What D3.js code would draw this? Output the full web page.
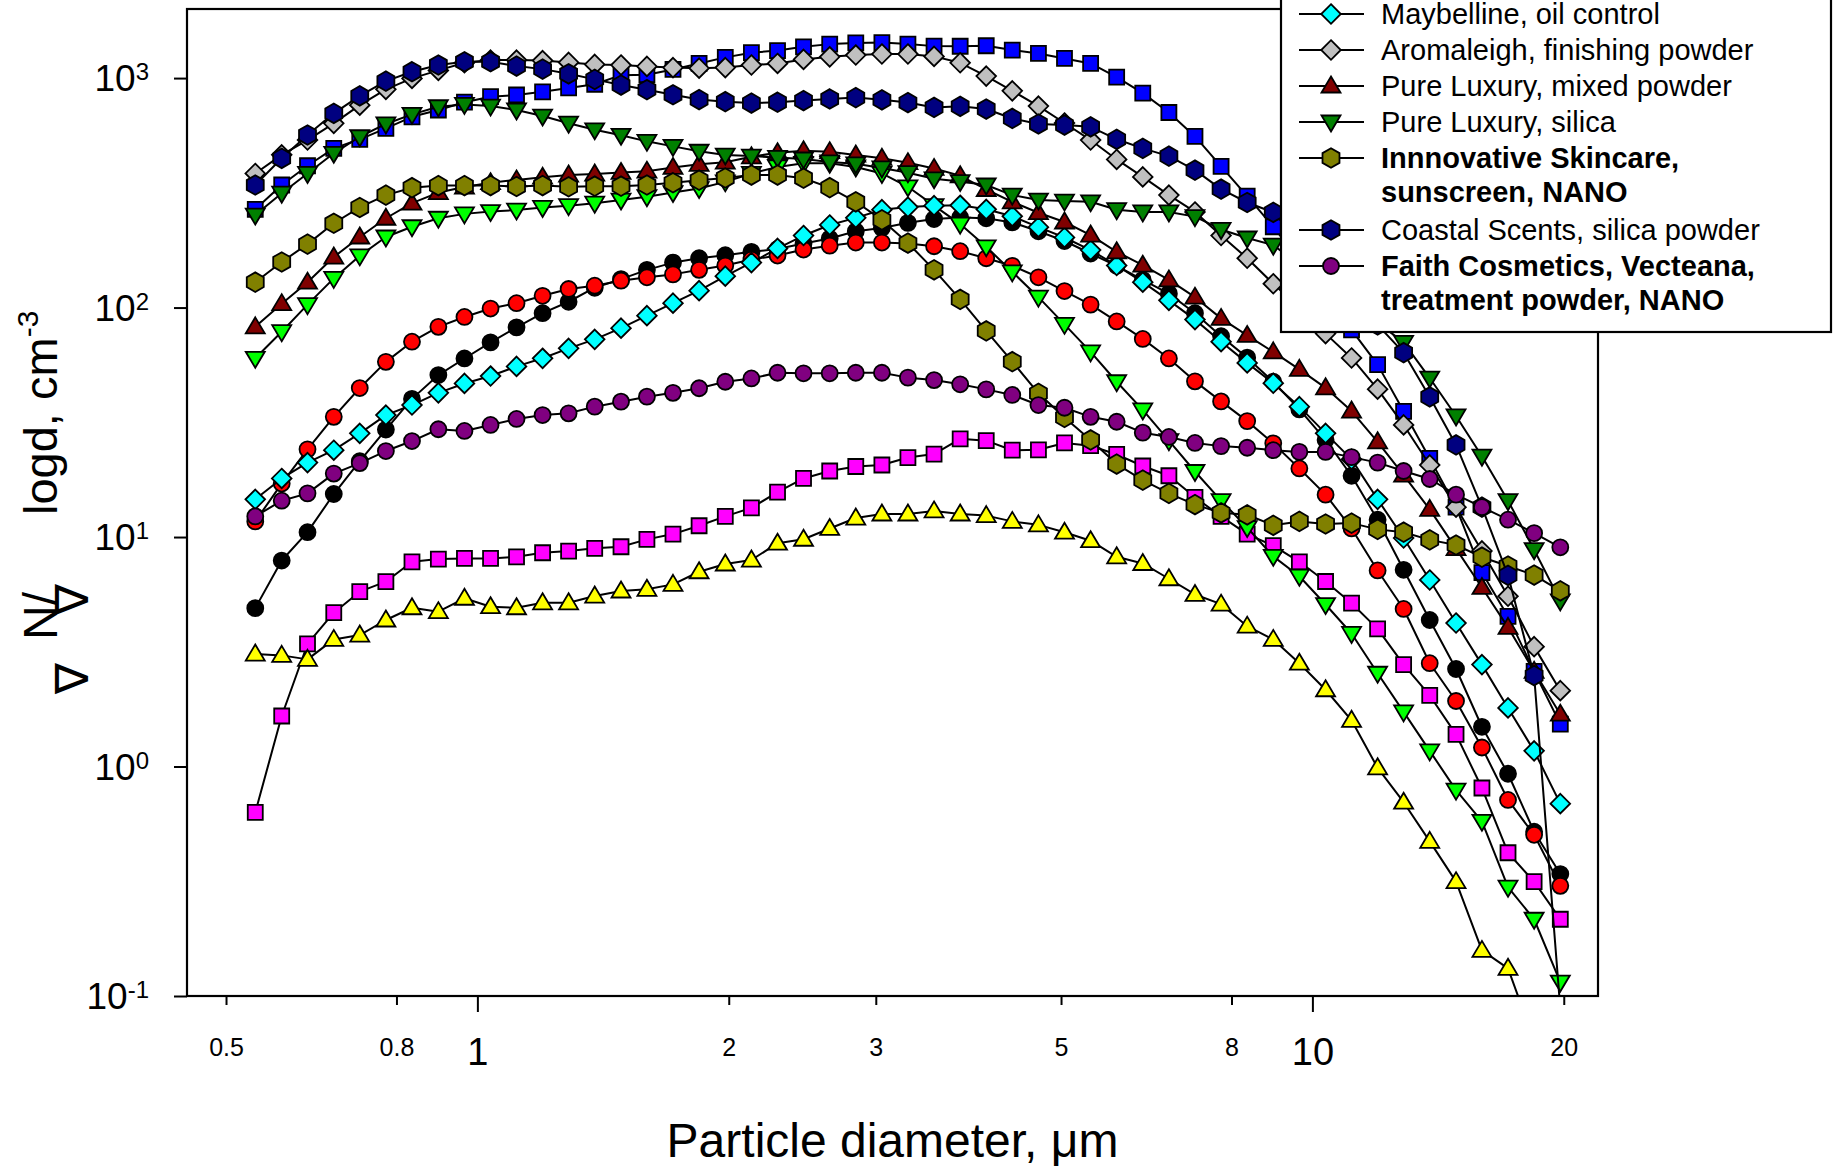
<!DOCTYPE html>
<html>
<head>
<meta charset="utf-8">
<script src="https://cdn.jsdelivr.net/npm/d3@7"></script>
<style>
  body { margin: 0; background: #ffffff; }
  svg { display: block; }
  text { font-family: "Liberation Sans", Arial, Helvetica, sans-serif; fill: #000; }
</style>
</head>
<body>
<svg id="chart" width="1833" height="1166"></svg>
<script>
// ---------------- DATA ----------------
const diameters = [0.542, 0.583, 0.626, 0.673, 0.723, 0.777, 0.835, 0.898, 0.965, 1.037, 1.114, 1.197, 1.286, 1.382, 1.486, 1.596, 1.715, 1.843, 1.981, 2.129, 2.288, 2.458, 2.642, 2.839, 3.051, 3.278, 3.523, 3.786, 4.068, 4.371, 4.698, 5.048, 5.425, 5.829, 6.264, 6.732, 7.234, 7.774, 8.354, 8.977, 9.647, 10.37, 11.14, 11.97, 12.86, 13.82, 14.86, 15.96, 17.15, 18.43, 19.81];

const blackCircles = [4.9,7.9,10.5,15.4,21.4,29.4,40,50.8,60,70.5,82,94.5,106,122,133,146,157,164,169,175,180,190,200,215,222,234,243,247,245,235,215,195,172,152,132,115,94.5,75,60.5,47.5,36,26.5,18.5,11.9,7.2,4.35,2.66,1.49,0.93,0.52,0.34];
const redCircles = [11.7,17.1,24.1,33.4,44.6,58,71,82.4,91,99,104.5,112.5,120.5,124.5,131,135.5,139.5,146,152.5,162,168.5,179,186,192,192,190,185,176,164,152,135.5,118,103,87,73,60,47.7,39,32,25.6,19.9,15.3,10.9,7.15,4.86,2.82,1.93,1.21,0.715,0.504,0.302];
const magentaSquares = [0.631,1.66,3.42,4.68,5.78,6.39,7.8,8.02,8.07,8.07,8.2,8.54,8.69,8.93,9.07,9.77,10.3,11.2,12.3,13.4,15.7,18.0,19.4,20.3,20.6,22.2,23.0,26.8,26.3,23.9,24.0,25.7,25.0,22.9,20.4,18.5,14.9,12.3,10.3,9.17,7.8,6.4,5.15,3.98,2.78,2.04,1.38,0.806,0.421,0.315,0.216];
const yellowTriangles = [3.09,3.05,2.93,3.58,3.74,4.35,4.92,4.73,5.41,4.97,4.92,5.17,5.17,5.53,5.82,5.92,6.22,7.06,7.63,7.94,9.4,9.78,10.9,12.1,12.6,12.6,13.0,12.6,12.4,11.7,11.3,10.5,9.64,8.2,7.67,6.58,5.62,5.1,4.09,3.58,2.82,2.16,1.59,0.987,0.699,0.472,0.315,0.158,0.132,0.064,null];
const blueSquares = [268,342,415,494,541,604,678,726,785,830,844,871,906,940,1030,1035,1091,1158,1231,1290,1318,1369,1406,1423,1428,1406,1378,1376,1383,1324,1281,1218,1158,1010,860,708,557,412,306,225,160,115,80,56.4,35.3,22.0,13.5,7.0,4.51,2.6,1.53];
const greenTriangles = [60.1,78.5,103,134,168,203,225,245,256,262,266,273,278,285,294,304,317,330,353,384,410,425,425,410,384,336,278,231,184,143,111,84.5,64.1,47.5,35.8,26.3,19.3,14.4,11,8.24,6.75,5.08,3.8,2.55,1.73,1.17,0.789,0.577,0.298,0.216,0.115];
const maybelline = [14.6,18.0,21.1,23.9,28.3,34.0,37.6,42.5,46.7,50.3,55.4,60.1,66.4,72.7,81.3,92.2,104.5,118.5,137,157,181,206,229,246,267,274,278,279,268,250,224,202,178,152.5,129,107.5,88.6,71,57.4,46.8,37,28.3,21.8,14.6,9.9,6.5,4.22,2.78,1.8,1.17,0.689];
const aromaleigh = [384,463,537,635,762,893,997,1080,1166,1198,1198,1192,1170,1147,1140,1124,1111,1105,1111,1140,1158,1206,1238,1260,1273,1273,1243,1166,1020,880,755,637,537,442,371,309,261,206,164,127,100,77,60.3,44.1,30.8,20.6,13.5,8.7,5.52,3.33,2.14];
const pureLuxuryMixed = [82.4,104,129,166,203,245,285,317,335,350,360,370,378,382,388,393,408,421,430,454,473,482,478,462,447,428,404,375,327,289,259,236,207,175,153,132,111,89.7,75.6,64.1,53.8,44.7,35.4,26.0,18.6,13.2,8.9,6.03,4.04,2.6,1.69];
const pureLuxurySilica = [253,315,384,470,555,631,695,750,768,755,726,683,636,595,563,530,504,480,462,457,451,444,431,423,406,387,364,354,342,309,294,291,289,267,261,261,249,219,201,187,154,126,104,86,70.5,49.3,33.7,22.5,14.4,8.81,5.27];
const innovativeSkincare = [129,158,189,233,273,309,333,340,340,340,337,340,336,338,338,342,350,359,367,378,378,366,333,289,241,191,146,108.5,79.1,58.1,42.3,33.2,26.5,20.8,17.7,15.5,13.85,12.75,12.5,11.25,11.7,11.4,11.5,10.8,10.5,9.72,9.23,8.17,7.48,6.83,5.83];
const coastalScents = [342,447,565,702,837,970,1066,1140,1178,1178,1128,1094,1044,987,932,890,846,806,789,778,785,798,811,822,804,782,745,753,733,667,631,624,613,541,494,457,397,328,287,260,196,148,112,84,63.6,40.8,25.2,13.5,6.81,2.49,0.088];
const faithCosmetics = [12.3,14.4,15.5,18.9,21.0,23.7,26.2,29.5,29.0,30.8,32.7,34.0,34.6,37.0,38.9,40.9,42.5,44.5,47.5,49.1,52.0,51.7,51.7,52.0,52.0,49.5,48.3,46.3,44.0,41.6,37.6,36.6,33.4,31.8,28.5,27.3,25.7,24.9,24.5,23.9,23.5,23.5,22.3,21.1,19.4,17.9,15.3,13.5,11.9,10.4,9.02];

const xTickMinor = [0.5, 0.8, 2, 3, 5, 8, 20];
const xTickMajor = [1, 10];
const yTickValues = [0.1, 1, 10, 100, 1000];
const yTickExponents = ["-1", "0", "1", "2", "3"];
const xTitle = "Particle diameter, \u03bcm";

const series = [
  { values: blackCircles,       fill: "#000000", shape: "circle" },
  { values: redCircles,         fill: "#FF0000", shape: "circle" },
  { values: magentaSquares,     fill: "#FF00FF", shape: "square" },
  { values: yellowTriangles,    fill: "#FFFF00", shape: "triUp" },
  { values: blueSquares,        fill: "#0000FF", shape: "square" },
  { values: greenTriangles,     fill: "#00FF00", shape: "triDown" },
  { values: maybelline,         fill: "#00FFFF", shape: "diamond", name: ["Maybelline, oil control"] },
  { values: aromaleigh,         fill: "#C0C0C0", shape: "diamond", name: ["Aromaleigh, finishing powder"] },
  { values: pureLuxuryMixed,    fill: "#800000", shape: "triUp",   name: ["Pure Luxury, mixed powder"] },
  { values: pureLuxurySilica,   fill: "#008000", shape: "triDown", name: ["Pure Luxury, silica"] },
  { values: innovativeSkincare, fill: "#808000", shape: "hexagon", name: ["Innnovative Skincare,", "sunscreen, NANO"], bold: true },
  { values: coastalScents,      fill: "#000080", shape: "hexagon", name: ["Coastal Scents, silica powder"] },
  { values: faithCosmetics,     fill: "#800080", shape: "circle",  name: ["Faith Cosmetics, Vecteana,", "treatment powder, NANO"], bold: true }
];

// ---------------- LAYOUT ----------------
const plot = { left: 187, right: 1598, top: 9, bottom: 996 };
const svg = d3.select("#chart");

const x = d3.scaleLog().domain([0.449, 21.98]).range([plot.left, plot.right]);
const y = d3.scaleLog().domain([0.1, 2000]).range([plot.bottom, plot.top]);

function shapePath(shape) {
  switch (shape) {
    case "circle": return "M8,0A8,8 0 1,1 -8,0A8,8 0 1,1 8,0Z";
    case "square": return "M-7.5,-7.5H7.5V7.5H-7.5Z";
    case "diamond": return "M0,-9.8L9.8,0L0,9.8L-9.8,0Z";
    case "triUp": return "M0,-9.5L9.5,6.5L-9.5,6.5Z";
    case "triDown": return "M0,9.5L9.5,-6.5L-9.5,-6.5Z";
    case "hexagon": {
      const r = 9.8; const pts = [];
      for (let k = 0; k < 6; k++) { const a = (-90 + 60 * k) * Math.PI / 180; pts.push([r * Math.cos(a), r * Math.sin(a)]); }
      return "M" + pts.map(p => p[0].toFixed(2) + "," + p[1].toFixed(2)).join("L") + "Z";
    }
  }
}

svg.append("defs").append("clipPath").attr("id", "plotclip")
  .append("rect").attr("x", plot.left).attr("y", plot.top)
  .attr("width", plot.right - plot.left).attr("height", plot.bottom - plot.top);

const dataLayer = svg.append("g").attr("clip-path", "url(#plotclip)");

const line = d3.line()
  .defined(d => d.v != null)
  .x(d => x(d.d))
  .y(d => y(d.v));

series.forEach(s => {
  const pts = diameters.map((d, i) => ({ d: d, v: s.values[i] }));
  const g = dataLayer.append("g");
  g.append("path").datum(pts).attr("d", line)
    .attr("fill", "none").attr("stroke", "#000").attr("stroke-width", 2).attr("stroke-linejoin", "round");
  g.selectAll("path.m").data(pts.filter(p => p.v != null)).enter().append("path")
    .attr("class", "m")
    .attr("d", shapePath(s.shape))
    .attr("transform", p => `translate(${x(p.d)},${y(p.v)})`)
    .attr("fill", s.fill).attr("stroke", "#000").attr("stroke-width", 1.8);
});

// Frame
svg.append("rect").attr("x", plot.left).attr("y", plot.top)
  .attr("width", plot.right - plot.left).attr("height", plot.bottom - plot.top)
  .attr("fill", "none").attr("stroke", "#000").attr("stroke-width", 2.2);

// X axis minor ticks/labels
const xMinorAxis = d3.axisBottom(x).tickValues(xTickMinor).tickSize(9).tickPadding(33)
  .tickFormat(d => String(d));
const gxm = svg.append("g").attr("transform", `translate(0,${plot.bottom})`).call(xMinorAxis);
gxm.select(".domain").remove();
gxm.selectAll("line").attr("stroke", "#000").attr("stroke-width", 2);
gxm.selectAll("text").attr("font-size", 25).attr("font-family", "Liberation Sans, Arial, sans-serif").attr("fill", "#000");

const xMajorAxis = d3.axisBottom(x).tickValues(xTickMajor).tickSize(16).tickPadding(26)
  .tickFormat(d => String(d));
const gxM = svg.append("g").attr("transform", `translate(0,${plot.bottom})`).call(xMajorAxis);
gxM.select(".domain").remove();
gxM.selectAll("line").attr("stroke", "#000").attr("stroke-width", 2);
gxM.selectAll("text").attr("font-size", 38).attr("font-family", "Liberation Sans, Arial, sans-serif").attr("fill", "#000");

// Y axis
const yAxis = d3.axisLeft(y).tickValues(yTickValues).tickSize(13).tickFormat(() => "");
const gy = svg.append("g").attr("transform", `translate(${plot.left},0)`).call(yAxis);
gy.select(".domain").remove();
gy.selectAll("line").attr("stroke", "#000").attr("stroke-width", 2);

const yLab = svg.append("g").selectAll("text").data(yTickValues).enter().append("text")
  .attr("x", 149)
  .attr("y", d => y(d) + 13)
  .attr("text-anchor", "end")
  .attr("font-size", 37);
yLab.append("tspan").text("10");
yLab.append("tspan").attr("font-size", 24).attr("dy", -11).text((d, i) => yTickExponents[i]);

// X title
svg.append("text").attr("x", (plot.left + plot.right) / 2).attr("y", 1157)
  .attr("text-anchor", "middle").attr("font-size", 48).text(xTitle);

// Y title (pieces placed as in the original rendering)
const yt = svg.append("g");
yt.append("text").attr("transform", "translate(88,694) rotate(-90)")
  .attr("font-family", "DejaVu Sans, sans-serif").attr("font-size", 46).text("\u2207");
yt.append("text").attr("transform", "translate(57,640) rotate(-90)")
  .attr("font-size", 48).text("N/");
yt.append("text").attr("transform", "translate(88,615) rotate(-90)")
  .attr("font-family", "DejaVu Sans, sans-serif").attr("font-size", 46).text("\u2207");
const ytMain = yt.append("text").attr("transform", "translate(57,515) rotate(-90)")
  .attr("font-size", 47);
ytMain.append("tspan").text("logd, cm");
ytMain.append("tspan").attr("font-size", 30).attr("dy", -19).text("-3");

// Legend
const lg = svg.append("g");
lg.append("rect").attr("x", 1281).attr("y", -10).attr("width", 550).attr("height", 342)
  .attr("fill", "#fff").attr("stroke", "#000").attr("stroke-width", 2.2);
let lineIdx = 0;
series.filter(s => s.name).forEach(s => {
  const cy = 14 + 36 * lineIdx;
  lg.append("line").attr("x1", 1299).attr("x2", 1364).attr("y1", cy).attr("y2", cy)
    .attr("stroke", "#000").attr("stroke-width", 2);
  lg.append("path").attr("d", shapePath(s.shape)).attr("transform", `translate(1331,${cy})`)
    .attr("fill", s.fill).attr("stroke", "#000").attr("stroke-width", 1.8);
  s.name.forEach((t, k) => {
    lg.append("text").attr("x", 1381).attr("y", cy + 10 + 34 * k)
      .attr("font-size", 29).attr("font-weight", s.bold ? "bold" : "normal").text(t);
  });
  lineIdx += s.name.length;
});
</script>
</body>
</html>
